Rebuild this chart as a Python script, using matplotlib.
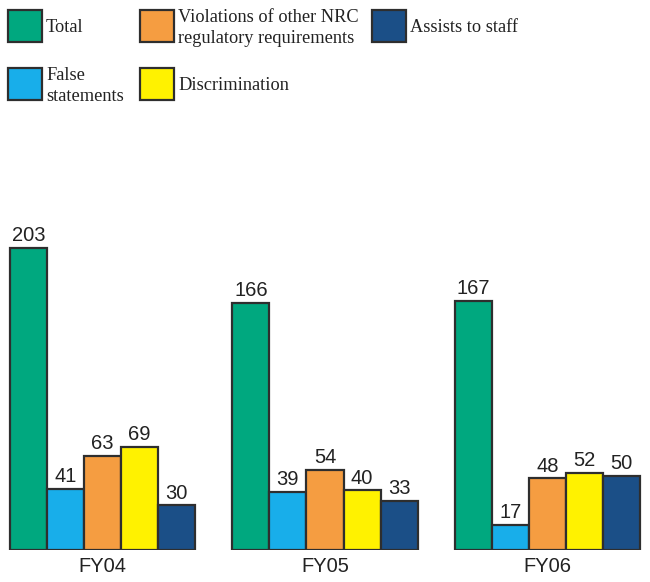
import numpy as np
import matplotlib.pyplot as plt
from matplotlib.patches import Rectangle

# data
years = ['FY04', 'FY05', 'FY06']
series = ['Total', 'False\nstatements', 'Violations of other NRC\nregulatory requirements',
          'Discrimination', 'Assists to staff']
total = [203, 166, 167]
false_statements = [41, 39, 17]
violations = [63, 54, 48]
discrimination = [69, 40, 52]
assists = [30, 33, 50]

colors = ['#00a87f', '#18aeea', '#f59d41', '#fff200', '#1b4f87']
edge = '#2e2e2e'

fig = plt.figure(figsize=(6.5, 5.82), dpi=100)
ax = fig.add_axes([0, 32 / 582, 1, 350 / 582])

values = [total, false_statements, violations, discrimination, assists]
group_x = np.arange(len(years)) * 6
for i, vals in enumerate(values):
    xs = group_x + i
    bars = ax.bar(xs, vals, width=1, align='edge', color=colors[i],
                  edgecolor=edge, linewidth=1.6)
    for b, v in zip(bars, vals):
        ax.annotate(str(v), (b.get_x() + 0.5, v), xytext=(0, 2),
                    textcoords='offset points', ha='center', va='bottom',
                    fontsize=14.5, family='Liberation Sans', color='#222222')

ax.set_xlim(-0.27, 17.27)
ax.set_ylim(0, 350 / 1.49)
ax.set_xticks(group_x + 2.5)
ax.set_xticklabels(years, fontsize=14.5, family='Liberation Sans', color='#222222')
ax.tick_params(length=0, pad=5)
ax.set_yticks([])
for s in ax.spines.values():
    s.set_visible(False)

# legend drawn by hand
W, H = 650, 582
legend_items = [
    (0, 8, 10, series[0]),
    (2, 140, 10, series[2]),
    (4, 372, 10, series[4]),
    (1, 8, 68, series[1]),
    (3, 140, 68, series[3]),
]
for ci, px, py, label in legend_items:
    fig.patches.append(Rectangle((px / W, 1 - (py + 32) / H), 34 / W, 32 / H,
                                 transform=fig.transFigure, facecolor=colors[ci],
                                 edgecolor=edge, linewidth=1.6))
    fig.text((px + 38) / W, 1 - (py + 18) / H, label, ha='left', va='center',
             fontsize=13.2, family='Liberation Serif', color='#222222',
             linespacing=1.35)

fig.savefig('out.png', dpi=100)
